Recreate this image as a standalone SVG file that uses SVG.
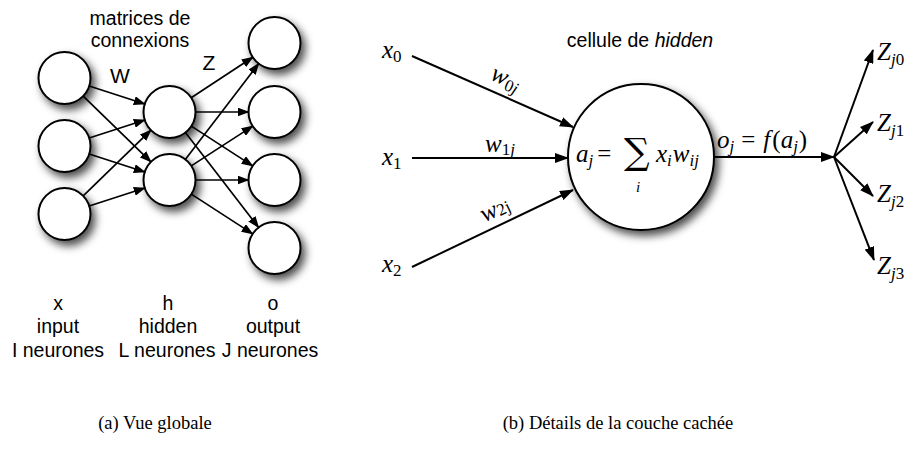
<svg xmlns="http://www.w3.org/2000/svg" width="915" height="455" viewBox="0 0 915 455">
<style>
.nd{fill:#fff;stroke:#000;stroke-width:2;filter:url(#sh)}
.ln{stroke:#000;stroke-width:1.7;fill:none;marker-end:url(#ah)}
.ln2{stroke:#000;stroke-width:2;fill:none;marker-end:url(#ah2)}
.sans{font-family:"Liberation Sans",Arial,sans-serif;font-size:19.5px;fill:#000}
.cap{font-family:"Liberation Serif","Times New Roman",serif;font-size:18.5px;fill:#000;text-anchor:middle}
.m{font-family:"Liberation Serif","Times New Roman",serif;font-size:25px;fill:#000}
.mi{font-style:italic}
.sub{font-size:17px}
.lim{font-family:"Liberation Serif","Times New Roman",serif;font-size:15px;font-style:italic;fill:#000}
</style>
<defs>
<filter id="sh" x="-40%" y="-40%" width="180%" height="180%">
<feDropShadow dx="4" dy="5" stdDeviation="4.5" flood-color="#000" flood-opacity="0.7"/>
</filter>
<marker id="ah" markerUnits="userSpaceOnUse" markerWidth="12" markerHeight="9" refX="11" refY="4.5" orient="auto">
<path d="M0,0 L12,4.5 L0,9 z" fill="#000"/>
</marker>
<marker id="ah2" markerUnits="userSpaceOnUse" markerWidth="14" markerHeight="10" refX="13" refY="5" orient="auto">
<path d="M0,0 L14,5 L0,10 z" fill="#000"/>
</marker>
</defs>

<!-- Left panel: global view -->
<g id="labels-left">
<text class="sans" x="140" y="25" text-anchor="middle">matrices de</text>
<text class="sans" x="140" y="47" text-anchor="middle">connexions</text>
<text class="sans" x="120" y="83" text-anchor="middle" style="font-size:21px">W</text>
<text class="sans" x="209" y="70" text-anchor="middle" style="font-size:21px">Z</text>
</g>

<g id="input-nodes">
<circle class="nd" cx="64.5" cy="78" r="26"/>
<circle class="nd" cx="64.5" cy="146" r="26"/>
<circle class="nd" cx="64.5" cy="214" r="26"/>
</g>
<g id="hidden-nodes">
<circle class="nd" cx="169.5" cy="112" r="26"/>
<circle class="nd" cx="169.5" cy="180" r="26"/>
</g>
<g id="output-nodes">
<circle class="nd" cx="274.5" cy="43" r="26"/>
<circle class="nd" cx="274.5" cy="112" r="26"/>
<circle class="nd" cx="274.5" cy="180" r="26"/>
<circle class="nd" cx="274.5" cy="248" r="26"/>
</g>

<g id="connectors-left">
<line class="ln" x1="89.2" y1="86" x2="144.8" y2="104"/>
<line class="ln" x1="83.2" y1="96.1" x2="150.9" y2="161.9"/>
<line class="ln" x1="89.2" y1="138" x2="144.8" y2="120"/>
<line class="ln" x1="89.2" y1="154" x2="144.8" y2="172"/>
<line class="ln" x1="83.2" y1="195.9" x2="150.9" y2="130.1"/>
<line class="ln" x1="89.2" y1="206" x2="144.8" y2="188"/>
<line class="ln" x1="191.2" y1="97.7" x2="252.8" y2="57.3"/>
<line class="ln" x1="195.5" y1="112" x2="248.5" y2="112"/>
<line class="ln" x1="191.3" y1="126.1" x2="252.7" y2="165.9"/>
<line class="ln" x1="185.4" y1="132.6" x2="258.6" y2="227.4"/>
<line class="ln" x1="185.3" y1="159.4" x2="258.7" y2="63.6"/>
<line class="ln" x1="191.3" y1="165.9" x2="252.7" y2="126.1"/>
<line class="ln" x1="195.5" y1="180" x2="248.5" y2="180"/>
<line class="ln" x1="191.3" y1="194.1" x2="252.7" y2="233.9"/>
</g>

<g id="column-labels">
<text class="sans" x="58" y="310" text-anchor="middle">x</text>
<text class="sans" x="58" y="333" text-anchor="middle">input</text>
<text class="sans" x="58" y="357" text-anchor="middle">I neurones</text>
<text class="sans" x="168" y="310" text-anchor="middle">h</text>
<text class="sans" x="168" y="333" text-anchor="middle">hidden</text>
<text class="sans" x="167" y="357" text-anchor="middle">L neurones</text>
<text class="sans" x="273" y="310" text-anchor="middle">o</text>
<text class="sans" x="273" y="333" text-anchor="middle">output</text>
<text class="sans" x="270" y="357" text-anchor="middle">J neurones</text>
</g>

<!-- Right panel: hidden cell detail -->
<g id="title-right">
<text class="sans" x="640" y="47" text-anchor="middle">cellule de <tspan font-style="italic">hidden</tspan></text>
</g>

<g id="cell">
<circle class="nd" cx="641" cy="157" r="73"/>
<text class="m" x="576" y="162"><tspan class="mi">a</tspan><tspan class="sub mi" dy="4">j</tspan><tspan dy="-4" dx="4">=</tspan></text>
<text x="624" y="164" font-family="'DejaVu Serif',serif" font-size="36px">∑</text>
<text class="lim" x="636" y="192">i</text>
<text class="m" x="656" y="162"><tspan class="mi">x</tspan><tspan class="sub mi" dy="4">i</tspan><tspan class="mi" dy="-4" dx="1">w</tspan><tspan class="sub mi" dy="4">ij</tspan></text>
</g>

<g id="inputs">
<text class="m" x="382" y="58"><tspan class="mi">x</tspan><tspan class="sub" dy="4">0</tspan></text>
<text class="m" x="382" y="165"><tspan class="mi">x</tspan><tspan class="sub" dy="4">1</tspan></text>
<text class="m" x="382" y="272"><tspan class="mi">x</tspan><tspan class="sub" dy="4">2</tspan></text>
</g>

<g id="outputs">
<text class="m" x="877" y="60"><tspan class="mi">Z</tspan><tspan class="sub" dy="5"><tspan font-style="italic">j</tspan>0</tspan></text>
<text class="m" x="877" y="131"><tspan class="mi">Z</tspan><tspan class="sub" dy="5"><tspan font-style="italic">j</tspan>1</tspan></text>
<text class="m" x="877" y="202"><tspan class="mi">Z</tspan><tspan class="sub" dy="5"><tspan font-style="italic">j</tspan>2</tspan></text>
<text class="m" x="877" y="274"><tspan class="mi">Z</tspan><tspan class="sub" dy="5"><tspan font-style="italic">j</tspan>3</tspan></text>
</g>

<g id="connectors-right">
<line class="ln2" x1="412" y1="56" x2="573" y2="127"/>
<line class="ln2" x1="412" y1="158" x2="568" y2="158"/>
<line class="ln2" x1="412" y1="267" x2="573" y2="190"/>
<line class="ln2" x1="714" y1="157" x2="834" y2="157"/>
<line class="ln2" x1="834" y1="157" x2="873" y2="50"/>
<line class="ln2" x1="834" y1="157" x2="873" y2="122"/>
<line class="ln2" x1="834" y1="157" x2="873" y2="196"/>
<line class="ln2" x1="834" y1="157" x2="874" y2="260"/>
<g transform="translate(503,85) rotate(23.8)"><text class="m" x="0" y="0" text-anchor="middle"><tspan class="mi">w</tspan><tspan class="sub" dy="4">0<tspan font-style="italic">j</tspan></tspan></text></g>
<text class="m" x="500" y="152" text-anchor="middle"><tspan class="mi">w</tspan><tspan class="sub" dy="3">1<tspan font-style="italic">j</tspan></tspan></text>
<g transform="translate(498,216) rotate(-25.6)"><text class="m" x="0" y="0" text-anchor="middle"><tspan class="mi">w</tspan><tspan class="sub" dy="1">2j</tspan></text></g>
<text class="m" x="717" y="148"><tspan class="mi">o</tspan><tspan class="sub mi" dy="4">j</tspan><tspan dy="-4" dx="7">=</tspan><tspan class="mi" dx="8">f</tspan><tspan dx="2">(</tspan><tspan class="mi">a</tspan><tspan class="sub mi" dy="4">j</tspan><tspan dy="-4" dx="1">)</tspan></text>
</g>

<g id="captions">
<text class="cap" x="155" y="429">(a) Vue globale</text>
<text class="cap" x="618" y="429">(b) Détails de la couche cachée</text>
</g>
</svg>
